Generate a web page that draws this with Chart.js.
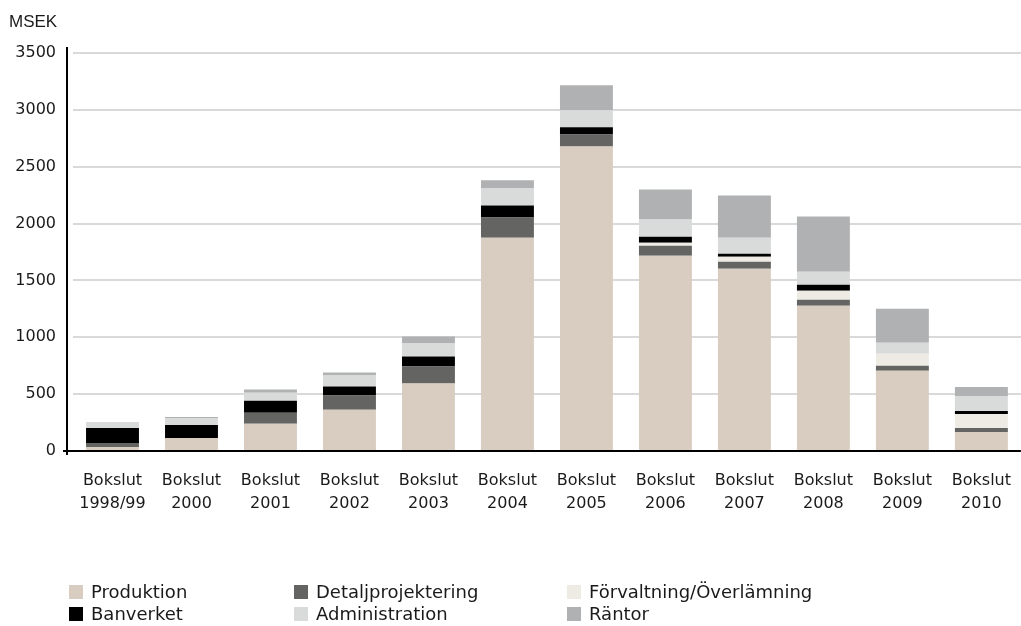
<!DOCTYPE html>
<html>
<head>
<meta charset="utf-8">
<script src="https://cdn.jsdelivr.net/npm/chart.js@4"></script>
<style>
  body { margin: 0; background: #fff; }
  #wrap { position: relative; width: 1021px; height: 626px; }
  #myChart { position: absolute; left: 0; top: 0; }
  .unit { position: absolute; left: 9px; top: 12px; font: 17px "Liberation Sans", Arial, sans-serif; color: #1a1a1a; }
  .leg { position: absolute; font: 18px "DejaVu Sans", sans-serif; color: #1a1a1a; white-space: nowrap; line-height: 22px; }
  .leg span { display: inline-block; width: 14px; height: 14px; vertical-align: -1px; margin-right: 8px; }
</style>
</head>
<body>
<div id="wrap">
  <canvas id="myChart" width="1021" height="626"></canvas>
  <div class="unit">MSEK</div>
  <div id="legend"></div>
</div>
<script>
const years = ['1998/99', '2000', '2001', '2002', '2003', '2004', '2005', '2006', '2007', '2008', '2009', '2010'];
const seriesNames = ['Produktion', 'Detaljprojektering', 'Förvaltning/Överlämning', 'Banverket', 'Administration', 'Räntor'];
const produktion = [35, 114, 239, 363, 593, 1876, 2678, 1718, 1603, 1277, 705, 167];
const detaljprojektering = [35, 0, 97, 124, 150, 177, 106, 88, 62, 53, 44, 35];
const forvaltning = [0, 0, 0, 0, 0, 0, 0, 26, 44, 79, 106, 123];
const banverket = [133, 114, 106, 80, 88, 106, 62, 53, 26, 53, 0, 26];
const administration = [53, 62, 71, 97, 115, 150, 150, 150, 141, 115, 97, 132];
const rantor = [0, 9, 27, 27, 62, 71, 220, 264, 370, 485, 300, 79];
const yTicks = [0, 500, 1000, 1500, 2000, 2500, 3000, 3500];

const colors = ['#d9cdc1', '#646462', '#eeebe4', '#000000', '#d9dbda', '#b0b1b2'];
const values = [produktion, detaljprojektering, forvaltning, banverket, administration, rantor];

// legend laid out as in the original: 3 columns, 2 rows
const legendPos = [[69, 581], [294, 581], [567, 581], [69, 603], [294, 603], [567, 603]];
var legend = document.getElementById('legend');
seriesNames.forEach(function (name, i) {
    var d = document.createElement('div');
    d.className = 'leg';
    d.style.left = legendPos[i][0] + 'px';
    d.style.top = legendPos[i][1] + 'px';
    d.innerHTML = '<span style="background:' + colors[i] + '"></span>' + name;
    legend.appendChild(d);
});

const axisLines = {
    id: 'axisLines',
    afterDraw(chart) {
        const c = chart.ctx;
        const y0 = chart.scales.y.getPixelForValue(0);
        c.save();
        c.strokeStyle = '#000';
        c.lineWidth = 2;
        c.beginPath();
        c.moveTo(67, 47);
        c.lineTo(67, y0 + 4);
        c.moveTo(63, y0);
        c.lineTo(chart.chartArea.right, y0);
        c.stroke();
        c.restore();
    }
};

const ctx = document.getElementById('myChart');
var myChart = new Chart(ctx, {
    type: 'bar',
    data: {
        labels: years.map(y => ['Bokslut', y]),
        datasets: seriesNames.map((name, i) => ({
            label: name,
            data: values[i],
            backgroundColor: colors[i],
            borderWidth: 0,
            barPercentage: 0.67,
            categoryPercentage: 1
        }))
    },
    options: {
        responsive: false,
        animation: false,
        layout: { padding: { top: 53, left: 0, right: 0, bottom: 0 } },
        plugins: { legend: { display: false }, tooltip: { enabled: false } },
        scales: {
            x: {
                stacked: true,
                grid: { display: false },
                border: { display: false },
                ticks: {
                    color: '#1a1a1a',
                    font: { family: 'DejaVu Sans', size: 16, lineHeight: 1.45 },
                    padding: 10,
                    maxRotation: 0,
                    autoSkip: false
                },
                afterFit(scale) { scale.height = 175; }
            },
            y: {
                stacked: true,
                min: 0,
                max: 3500,
                afterBuildTicks(scale) { scale.ticks = yTicks.map(v => ({ value: v })); },
                grid: { color: '#d9d9d9', lineWidth: 2, drawTicks: false },
                border: { display: false },
                ticks: {
                    color: '#1a1a1a',
                    font: { family: 'DejaVu Sans', size: 16 },
                    padding: 17,
                    callback: v => String(v)
                },
                afterFit(scale) { scale.width = 73; }
            }
        }
    },
    plugins: [axisLines]
});
</script>
</body>
</html>
